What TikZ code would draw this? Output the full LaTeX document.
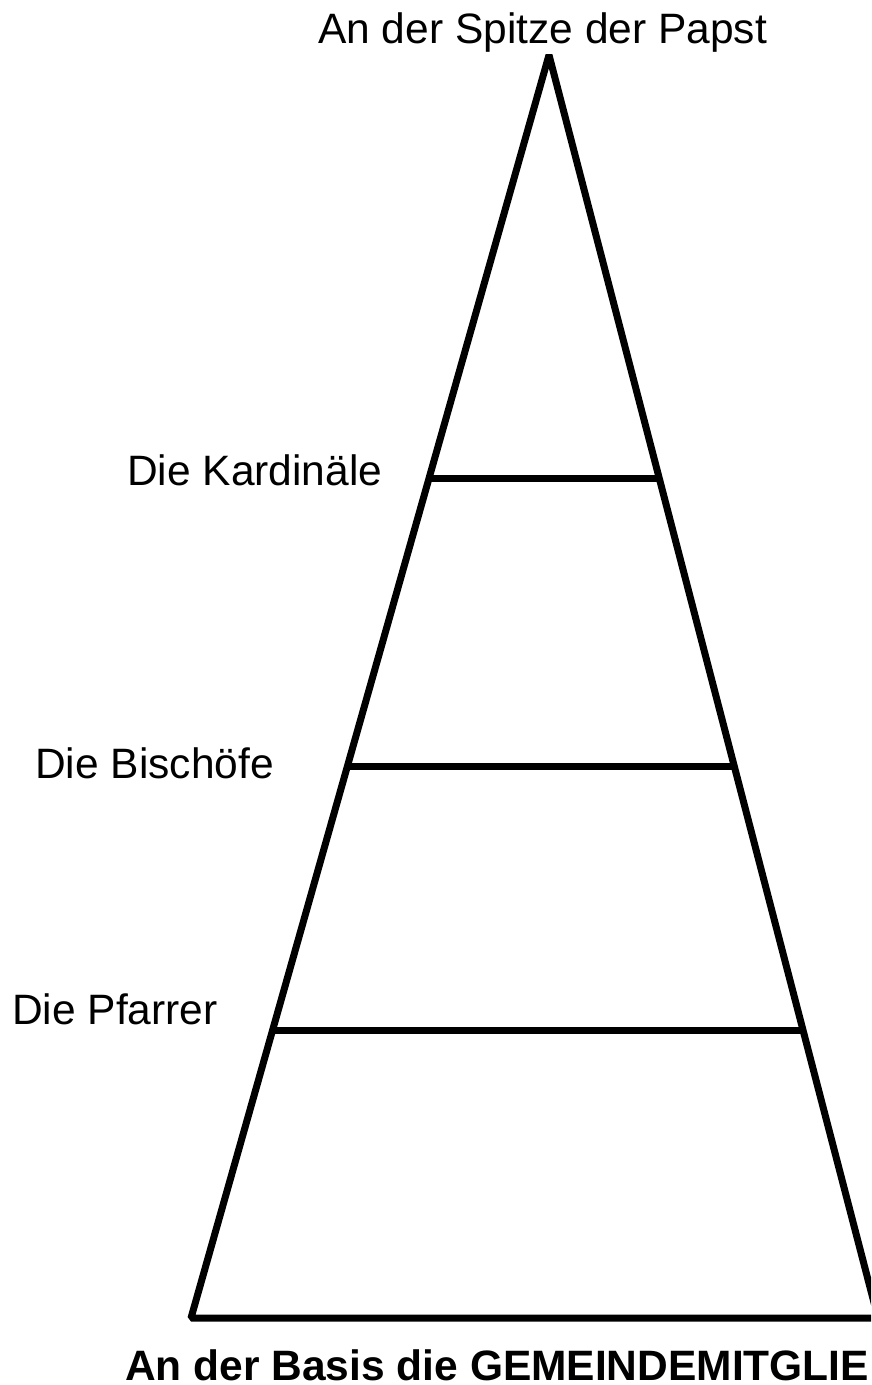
\documentclass[tikz,border=0pt]{standalone}
\usepackage{fontspec}
\setmainfont{Liberation Sans}
\usepackage{tikz}
\usetikzlibrary{calc,positioning}

\begin{document}
\begin{tikzpicture}[x=1pt, y=-1pt,
    edge/.style={draw=black, line width=7pt, line join=bevel},
    rung/.style={draw=black, line width=7pt},
    lbl/.style={anchor=base west, inner sep=0pt, font=\fontsize{42.5}{50}\selectfont},
    lblbold/.style={lbl, font=\fontsize{42.5}{50}\selectfont\bfseries}]
    \useasboundingbox (0,0) rectangle (871,1385);
    \clip (0,0) rectangle (871,1385);

    % Pyramid outline
    \coordinate (apex) at (549,55);
    \coordinate (baseL) at (191,1318);
    \coordinate (baseR) at (878,1318);
    \draw[edge] (apex) -- (baseL) -- (baseR) -- cycle;

    % Levels
    \foreach \t/\name in {0.335/kard, 0.563/bisch, 0.772/pfarr} {
        \coordinate (\name L) at ($(apex)!\t!(baseL)$);
        \coordinate (\name R) at ($(apex)!\t!(baseR)$);
        \draw[rung] (\name L) -- (\name R);
    }

    % Labels
    \node[lbl] (papst) at (318,43) {An der Spitze der Papst};
    \node[lbl] (kardinaele) at (127,485) {Die Kardinäle};
    \node[lbl] (bischoefe) at (35,778) {Die Bischöfe};
    \node[lbl] (pfarrer) at (12,1024) {Die Pfarrer};
    \node[lblbold] (basis) at (125,1380) {An der Basis die GEMEINDEMITGLIE};
\end{tikzpicture}
\end{document}
